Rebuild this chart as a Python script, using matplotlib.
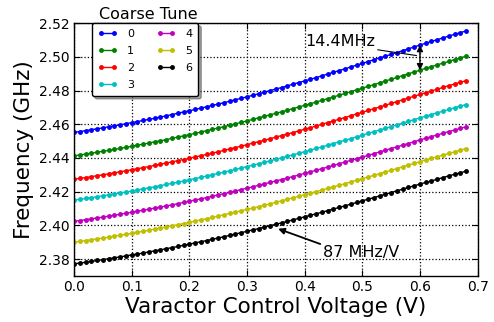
import matplotlib
matplotlib.use("Agg")
import matplotlib.pyplot as plt

volts = [0.00, 0.01, 0.02, 0.03, 0.04, 0.05, 0.06, 0.07, 0.08, 0.09,
         0.10, 0.11, 0.12, 0.13, 0.14, 0.15, 0.16, 0.17, 0.18, 0.19,
         0.20, 0.21, 0.22, 0.23, 0.24, 0.25, 0.26, 0.27, 0.28, 0.29,
         0.30, 0.31, 0.32, 0.33, 0.34, 0.35, 0.36, 0.37, 0.38, 0.39,
         0.40, 0.41, 0.42, 0.43, 0.44, 0.45, 0.46, 0.47, 0.48, 0.49,
         0.50, 0.51, 0.52, 0.53, 0.54, 0.55, 0.56, 0.57, 0.58, 0.59,
         0.60, 0.61, 0.62, 0.63, 0.64, 0.65, 0.66, 0.67, 0.68]

tune_0 = [2.4552, 2.4557, 2.4562, 2.4568, 2.4573, 2.4579, 2.4585, 2.4591, 2.4597, 2.4603,
          2.4610, 2.4616, 2.4623, 2.4629, 2.4636, 2.4643, 2.4650, 2.4658, 2.4665, 2.4673,
          2.4680, 2.4688, 2.4696, 2.4704, 2.4712, 2.4720, 2.4728, 2.4737, 2.4746, 2.4754,
          2.4763, 2.4772, 2.4781, 2.4790, 2.4800, 2.4809, 2.4818, 2.4828, 2.4838, 2.4848,
          2.4857, 2.4867, 2.4877, 2.4888, 2.4898, 2.4908, 2.4919, 2.4929, 2.4940, 2.4951,
          2.4961, 2.4972, 2.4983, 2.4994, 2.5004, 2.5015, 2.5026, 2.5037, 2.5048, 2.5059,
          2.5070, 2.5081, 2.5092, 2.5102, 2.5113, 2.5123, 2.5134, 2.5144, 2.5154]
tune_1 = [2.4413, 2.4418, 2.4423, 2.4429, 2.4434, 2.4440, 2.4445, 2.4451, 2.4457, 2.4463,
          2.4469, 2.4476, 2.4482, 2.4489, 2.4496, 2.4502, 2.4509, 2.4517, 2.4524, 2.4531,
          2.4539, 2.4546, 2.4554, 2.4562, 2.4570, 2.4578, 2.4586, 2.4594, 2.4603, 2.4611,
          2.4620, 2.4629, 2.4638, 2.4647, 2.4656, 2.4665, 2.4674, 2.4684, 2.4693, 2.4703,
          2.4712, 2.4722, 2.4732, 2.4742, 2.4752, 2.4762, 2.4773, 2.4783, 2.4793, 2.4804,
          2.4814, 2.4825, 2.4835, 2.4846, 2.4857, 2.4867, 2.4878, 2.4889, 2.4900, 2.4910,
          2.4921, 2.4932, 2.4942, 2.4953, 2.4963, 2.4973, 2.4984, 2.4994, 2.5004]
tune_2 = [2.4274, 2.4279, 2.4284, 2.4289, 2.4295, 2.4300, 2.4306, 2.4312, 2.4318, 2.4324,
          2.4330, 2.4336, 2.4343, 2.4349, 2.4356, 2.4363, 2.4370, 2.4377, 2.4384, 2.4391,
          2.4398, 2.4406, 2.4414, 2.4421, 2.4429, 2.4437, 2.4445, 2.4454, 2.4462, 2.4470,
          2.4479, 2.4488, 2.4497, 2.4505, 2.4514, 2.4524, 2.4533, 2.4542, 2.4551, 2.4561,
          2.4571, 2.4580, 2.4590, 2.4600, 2.4610, 2.4620, 2.4630, 2.4640, 2.4651, 2.4661,
          2.4671, 2.4682, 2.4692, 2.4703, 2.4713, 2.4724, 2.4735, 2.4745, 2.4756, 2.4766,
          2.4777, 2.4787, 2.4798, 2.4808, 2.4819, 2.4829, 2.4839, 2.4849, 2.4859]
tune_3 = [2.4150, 2.4155, 2.4160, 2.4165, 2.4170, 2.4176, 2.4181, 2.4187, 2.4192, 2.4198,
          2.4204, 2.4210, 2.4217, 2.4223, 2.4229, 2.4236, 2.4243, 2.4249, 2.4256, 2.4263,
          2.4271, 2.4278, 2.4285, 2.4293, 2.4301, 2.4308, 2.4316, 2.4324, 2.4332, 2.4341,
          2.4349, 2.4357, 2.4366, 2.4374, 2.4383, 2.4392, 2.4401, 2.4410, 2.4419, 2.4428,
          2.4438, 2.4447, 2.4457, 2.4466, 2.4476, 2.4486, 2.4496, 2.4505, 2.4515, 2.4525,
          2.4535, 2.4546, 2.4556, 2.4566, 2.4576, 2.4586, 2.4597, 2.4607, 2.4617, 2.4628,
          2.4638, 2.4648, 2.4658, 2.4668, 2.4678, 2.4688, 2.4698, 2.4708, 2.4717]
tune_4 = [2.4024, 2.4029, 2.4034, 2.4039, 2.4044, 2.4049, 2.4055, 2.4060, 2.4066, 2.4072,
          2.4078, 2.4084, 2.4090, 2.4096, 2.4103, 2.4109, 2.4116, 2.4122, 2.4129, 2.4136,
          2.4143, 2.4151, 2.4158, 2.4165, 2.4173, 2.4181, 2.4188, 2.4196, 2.4204, 2.4213,
          2.4221, 2.4229, 2.4238, 2.4246, 2.4255, 2.4264, 2.4272, 2.4281, 2.4290, 2.4299,
          2.4309, 2.4318, 2.4327, 2.4337, 2.4346, 2.4356, 2.4366, 2.4376, 2.4386, 2.4396,
          2.4406, 2.4415, 2.4426, 2.4436, 2.4446, 2.4456, 2.4466, 2.4476, 2.4486, 2.4497,
          2.4507, 2.4517, 2.4527, 2.4537, 2.4547, 2.4557, 2.4566, 2.4576, 2.4585]
tune_5 = [2.3900, 2.3905, 2.3910, 2.3915, 2.3920, 2.3925, 2.3930, 2.3936, 2.3942, 2.3947,
          2.3953, 2.3959, 2.3965, 2.3971, 2.3978, 2.3984, 2.3991, 2.3997, 2.4004, 2.4011,
          2.4018, 2.4025, 2.4033, 2.4040, 2.4047, 2.4055, 2.4063, 2.4071, 2.4079, 2.4087,
          2.4095, 2.4103, 2.4111, 2.4120, 2.4128, 2.4137, 2.4146, 2.4155, 2.4164, 2.4173,
          2.4182, 2.4191, 2.4200, 2.4210, 2.4219, 2.4229, 2.4238, 2.4248, 2.4258, 2.4268,
          2.4278, 2.4287, 2.4297, 2.4307, 2.4317, 2.4327, 2.4337, 2.4348, 2.4358, 2.4368,
          2.4378, 2.4388, 2.4398, 2.4408, 2.4417, 2.4427, 2.4437, 2.4446, 2.4456]
tune_6 = [2.3772, 2.3777, 2.3781, 2.3786, 2.3792, 2.3797, 2.3802, 2.3808, 2.3813, 2.3819,
          2.3825, 2.3830, 2.3836, 2.3843, 2.3849, 2.3855, 2.3862, 2.3868, 2.3875, 2.3882,
          2.3889, 2.3896, 2.3903, 2.3910, 2.3918, 2.3925, 2.3933, 2.3941, 2.3949, 2.3957,
          2.3965, 2.3973, 2.3981, 2.3990, 2.3998, 2.4007, 2.4015, 2.4024, 2.4033, 2.4042,
          2.4051, 2.4060, 2.4069, 2.4078, 2.4088, 2.4097, 2.4107, 2.4116, 2.4126, 2.4136,
          2.4146, 2.4155, 2.4165, 2.4175, 2.4185, 2.4195, 2.4205, 2.4215, 2.4225, 2.4235,
          2.4245, 2.4255, 2.4264, 2.4274, 2.4284, 2.4294, 2.4303, 2.4312, 2.4322]

curves = [tune_0, tune_1, tune_2, tune_3, tune_4, tune_5, tune_6]
tune_labels = ['0', '1', '2', '3', '4', '5', '6']
tune_colors = ['b', 'g', 'r', 'c', 'm', 'y', 'k']

x_ticks = [0.0, 0.1, 0.2, 0.3, 0.4, 0.5, 0.6, 0.7]
y_ticks = [2.38, 2.40, 2.42, 2.44, 2.46, 2.48, 2.50, 2.52]

fig = plt.figure(figsize=(4.94, 3.22), dpi=100)
ax = fig.add_axes([0.1498, 0.143, 0.817, 0.785])

for f, lab, col in zip(curves, tune_labels, tune_colors):
    ax.plot(volts, f, color=col, lw=1, marker='.', ms=5, label=lab)

ax.set_xlim(0, 0.7)
ax.set_ylim(2.37, 2.52)
ax.set_xticks(x_ticks)
ax.set_yticks(y_ticks)
ax.set_xticklabels(['%.1f' % t for t in x_ticks])
ax.set_yticklabels(['%.2f' % t for t in y_ticks])
ax.tick_params(direction='in', top=True, right=True, length=4, width=0.8,
               labelsize=10, pad=3)
ax.grid(True, color='k', linestyle=':', lw=0.9)
for s in ax.spines.values():
    s.set_linewidth(1)

ax.set_xlabel('Varactor Control Voltage (V)', fontsize=15.5, labelpad=2)
ax.set_ylabel('Frequency (GHz)', fontsize=15.5, labelpad=4)

leg = ax.legend(loc='upper left', bbox_to_anchor=(0.0446, 1.0), ncol=2,
                fontsize=8, numpoints=2, handlelength=1.7, handletextpad=0.9,
                columnspacing=2.0, labelspacing=0.62, borderpad=0.55,
                borderaxespad=0, fancybox=True, shadow=True, framealpha=1)
leg.get_frame().set_edgecolor('k')
ax.text(0.184, 1.033, 'Coarse Tune', transform=ax.transAxes, ha='center',
        va='center', fontsize=11.5)

# 14.4 MHz spacing between coarse steps 0 and 1 at 0.6 V
i6 = volts.index(0.60)
ax.annotate('', xy=(volts[i6], tune_0[i6]), xytext=(volts[i6], tune_1[i6]),
            arrowprops=dict(arrowstyle='<|-|>', color='k', lw=1,
                            mutation_scale=9, shrinkA=0, shrinkB=0))
ax.annotate('14.4MHz', xy=(0.594, 2.5008), xytext=(0.4005, 2.5089),
            ha='left', va='center', fontsize=11.5,
            arrowprops=dict(arrowstyle='-', color='k', lw=0.8,
                            relpos=(1, 0), shrinkA=0, shrinkB=0))

ax.annotate('87 MHz/V', xy=(0.354, 2.398), xytext=(0.432, 2.3839),
            ha='left', va='center', fontsize=11.5,
            arrowprops=dict(arrowstyle='-|>', color='k', lw=1.3,
                            mutation_scale=9, relpos=(0, 1),
                            shrinkA=0, shrinkB=0))

fig.savefig('out.png', dpi=100)
